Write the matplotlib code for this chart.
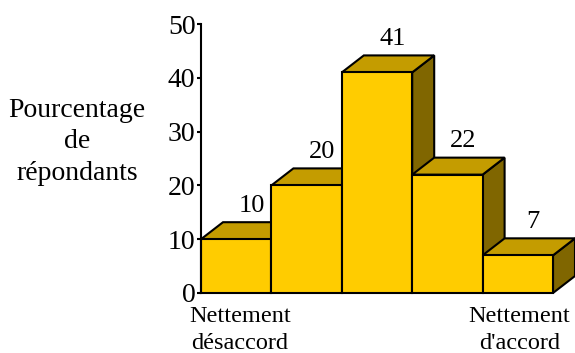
import numpy as np
import matplotlib
matplotlib.use('Agg')
import matplotlib.pyplot as plt
from matplotlib.patches import Polygon

plt.rcParams['font.family'] = ['Liberation Serif', 'DejaVu Serif']

# pourcentages par niveau d'accord
niveaux = [1, 2, 3, 4, 5]
valeurs = [10, 20, 41, 22, 7]
yticks = [0, 10, 20, 30, 40, 50]

face = '#FFCC00'
dessus = '#C49C00'
cote = '#806600'

W, H = 575, 353
fig = plt.figure(figsize=(W / 100, H / 100), dpi=100)
ax = fig.add_axes([201 / W, 60 / H, 352 / W, 269 / H])
ax.set_xlim(0, 5)
ax.set_ylim(0, 50)

# profondeur de la perspective
dx = 0.3125
dy = 3.16

for i, v in enumerate(valeurs):
    x0, x1 = i, i + 1
    front = Polygon([(x0, 0), (x1, 0), (x1, v), (x0, v)], closed=True,
                    facecolor=face, edgecolor='black', lw=1.5, clip_on=False, zorder=2 + i)
    top = Polygon([(x0, v), (x1, v), (x1 + dx, v + dy), (x0 + dx, v + dy)], closed=True,
                  facecolor=dessus, edgecolor='black', lw=1.5, clip_on=False, zorder=2 + i)
    side = Polygon([(x1, 0), (x1 + dx, dy), (x1 + dx, v + dy), (x1, v)], closed=True,
                   facecolor=cote, edgecolor='black', lw=1.5, clip_on=False, zorder=2 + i)
    ax.add_patch(side)
    ax.add_patch(top)
    ax.add_patch(front)
    ax.text(i + 0.5 + dx * 0.7, v + dy + 3.0, str(v), ha='center', va='center',
            fontsize=19, zorder=10)

for s in ['top', 'right', 'bottom']:
    ax.spines[s].set_visible(False)
ax.spines['left'].set_linewidth(1.5)
ax.set_yticks(yticks)
ax.tick_params(axis='y', direction='out', length=3, width=1.5, labelsize=20, pad=1)
ax.set_xticks([])

ax.text(0.55, -2.4, 'Nettement\ndésaccord', ha='center', va='top', fontsize=17.5,
        linespacing=1.38, clip_on=False)
ax.text(4.52, -2.4, "Nettement\nd'accord", ha='center', va='top', fontsize=17.5,
        linespacing=1.38, clip_on=False)

fig.text(77 / W, 1 - 142 / H, 'Pourcentage\nde\nrépondants', ha='center', va='center',
         fontsize=20, linespacing=1.36)

plt.savefig('out.png', dpi=100)
